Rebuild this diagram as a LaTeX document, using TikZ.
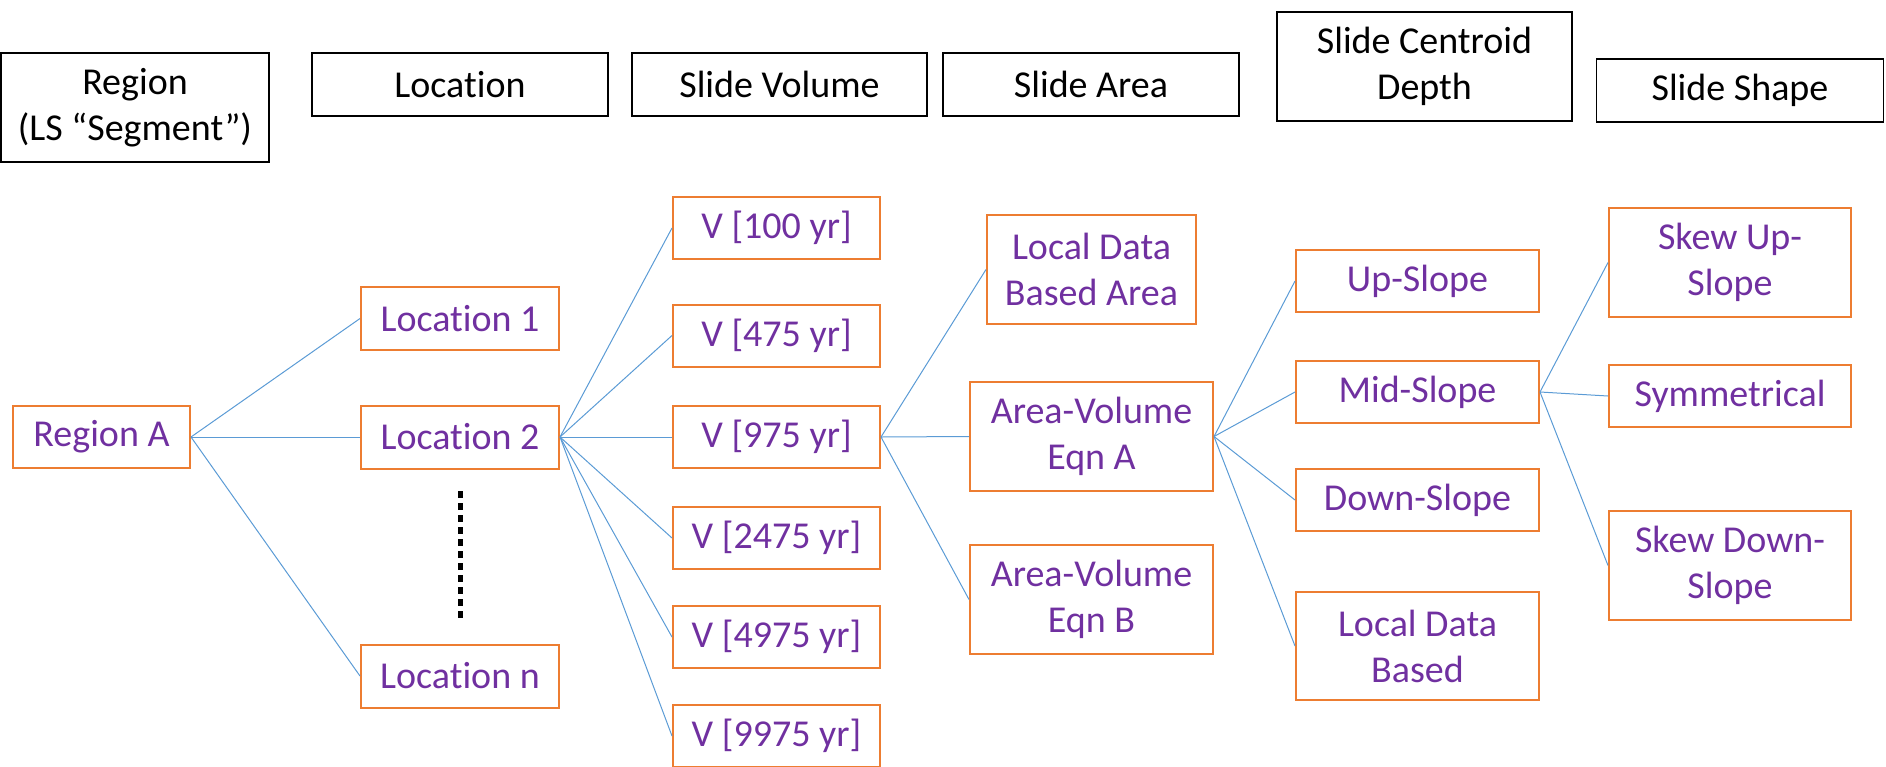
\documentclass[tikz,border=0pt]{standalone}
\usepackage{fontspec}
\setmainfont{Carlito}[Ligatures=NoCommon]
\usepackage{tikz}

\definecolor{boxorange}{HTML}{ED7D31}
\definecolor{txtpurple}{HTML}{7030A0}
\definecolor{linkblue}{HTML}{5B9BD5}

\begin{document}
\begin{tikzpicture}[
  x=1pt, y=-1pt,
  every node/.style = {shape=rectangle, align=center, inner sep=0pt,
                       font=\fontsize{38}{46}\selectfont},
  head/.style 2 args = {draw=black, line width=1.5pt, text=black,
                        minimum width=#1, minimum height=#2},
  item/.style 2 args = {draw=boxorange, line width=2pt, text=txtpurple,
                        minimum width=#1, minimum height=#2},
  link/.style = {draw=linkblue, line width=1pt}
]
  \useasboundingbox (0,0) rectangle (1886,766);

  % column headings
  \node[head={268pt}{109pt}] (hRegion) at (135,107.5) {Region\\(LS “Segment”)};
  \node[head={296pt}{63pt}]  (hLoc)    at (460,84.5)   {Location};
  \node[head={295pt}{63pt}]  (hVol)    at (779.5,84.5) {Slide Volume};
  \node[head={296pt}{63pt}]  (hArea)   at (1091,84.5)  {Slide Area};
  \node[head={295pt}{109pt}] (hDepth)  at (1424.5,66.5) {Slide Centroid\\Depth};
  \node[head={287pt}{63pt}]  (hShape)  at (1740,90.5)  {Slide Shape};

  % region and locations
  \node[item={177pt}{62pt}] (regA) at (101.5,437) {Region A};
  \node[item={198pt}{63pt}] (loc1) at (460,318.5) {Location 1};
  \node[item={198pt}{63pt}] (loc2) at (460,437)   {Location 2};
  \node[item={198pt}{63pt}] (locN) at (460,676)   {Location n};
  \draw[line width=5pt, dash pattern=on 7pt off 5pt] (460,491) -- (460,621);

  % slide volumes
  \node[item={207pt}{62pt}] (v100)  at (776.5,228)   {V [100 yr]};
  \node[item={207pt}{62pt}] (v475)  at (776.5,335.5) {V [475 yr]};
  \node[item={207pt}{62pt}] (v975)  at (776.5,437)   {V [975 yr]};
  \node[item={207pt}{62pt}] (v2475) at (776.5,538)   {V [2475 yr]};
  \node[item={207pt}{62pt}] (v4975) at (776.5,637)   {V [4975 yr]};
  \node[item={207pt}{62pt}] (v9975) at (776.5,736)   {V [9975 yr]};

  % slide areas
  \node[item={209pt}{109pt}] (aLocal) at (1091.5,269.5) {Local Data\\Based Area};
  \node[item={243pt}{109pt}] (aEqnA)  at (1091.5,436.5) {Area-Volume\\Eqn A};
  \node[item={243pt}{109pt}] (aEqnB)  at (1091.5,599.5) {Area-Volume\\Eqn B};

  % centroid depths
  \node[item={243pt}{62pt}]  (dUp)    at (1417.5,281) {Up-Slope};
  \node[item={243pt}{62pt}]  (dMid)   at (1417.5,392) {Mid-Slope};
  \node[item={243pt}{62pt}]  (dDown)  at (1417.5,500) {Down-Slope};
  \node[item={243pt}{108pt}] (dLocal) at (1417.5,646) {Local Data\\Based};

  % slide shapes
  \node[item={242pt}{109pt}] (sSkewUp) at (1730,262.5) {Skew Up-\\Slope};
  \node[item={242pt}{62pt}]  (sSym)    at (1730,396)   {Symmetrical};
  \node[item={242pt}{109pt}] (sSkewDn) at (1730,565.5) {Skew Down-\\Slope};

  % connectors
  \foreach \c in {loc1,loc2,locN}
    \draw[link] (regA.east) -- (\c.west);
  \foreach \c in {v100,v475,v975,v2475,v4975,v9975}
    \draw[link] (loc2.east) -- (\c.west);
  \foreach \c in {aLocal,aEqnA,aEqnB}
    \draw[link] (v975.east) -- (\c.west);
  \foreach \c in {dUp,dMid,dDown,dLocal}
    \draw[link] (aEqnA.east) -- (\c.west);
  \foreach \c in {sSkewUp,sSym,sSkewDn}
    \draw[link] (dMid.east) -- (\c.west);
\end{tikzpicture}
\end{document}
